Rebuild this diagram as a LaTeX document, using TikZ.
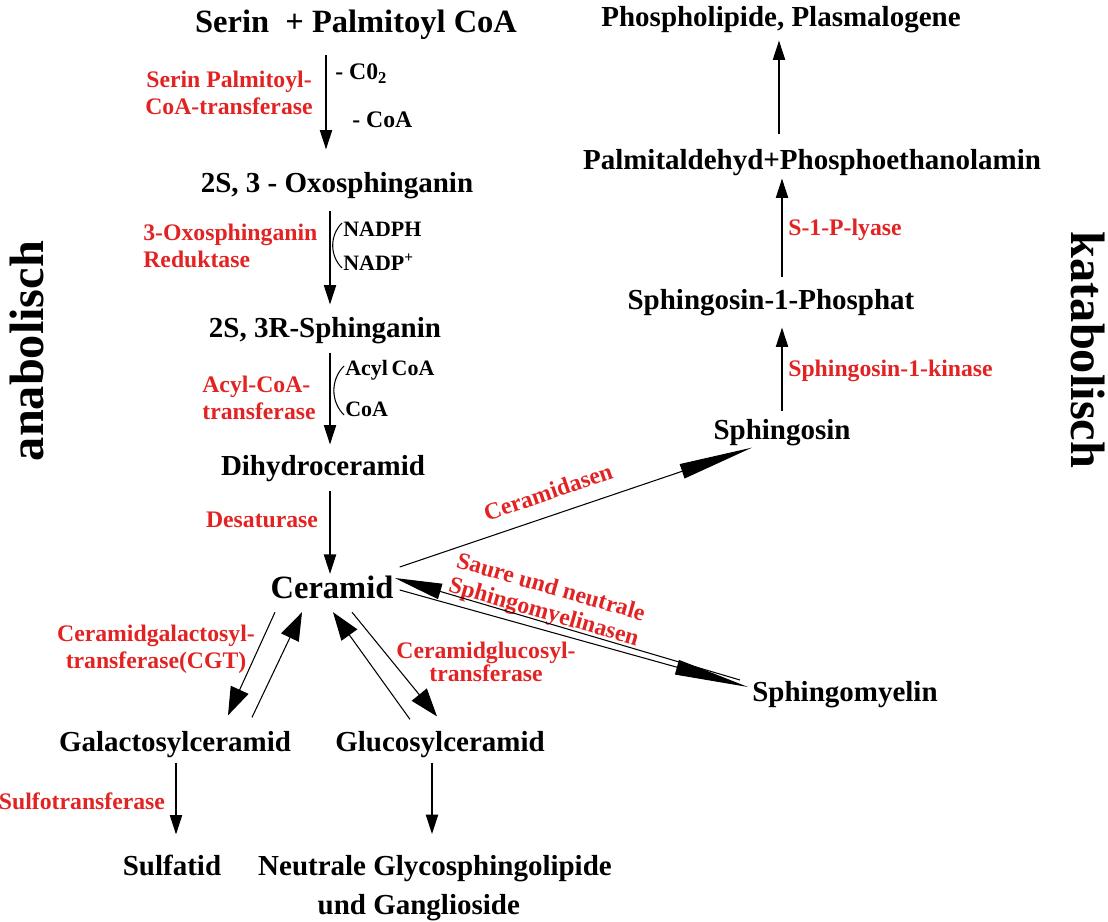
\documentclass[tikz,border=0pt]{standalone}
\usepackage{fontspec}
\setmainfont{Liberation Serif}
\usetikzlibrary{arrows.meta}
\definecolor{enzymrot}{RGB}{226,35,35}
\tikzset{
  stoff/.style={
    inner sep=0pt,
    text height=11.5pt,
    text depth=3.6pt,
    font=\fontsize{16.5}{20}\selectfont\bfseries
  },
  haupt/.style={
    inner sep=0pt,
    text height=12.9pt,
    text depth=4pt,
    font=\fontsize{18.5}{22}\selectfont\bfseries
  },
  enzym/.style={
    inner sep=0pt,
    text=enzymrot,
    font=\fontsize{13.5}{15.5}\selectfont\bfseries
  },
  klein/.style={
    inner sep=0pt,
    anchor=west,
    font=\fontsize{12.5}{15}\selectfont\bfseries
  },
  seite/.style={
    inner sep=0pt,
    font=\fontsize{27.5}{30}\selectfont\bfseries
  },
  pfeil/.style={
    -{Triangle[length=11pt,width=7pt]},
    line width=0.6pt
  },
  breit/.style={
    -{Triangle[length=16pt,width=11pt]},
    line width=0.6pt
  },
  lang/.style={
    -{Triangle[length=42pt,width=8.5pt]},
    line width=0.6pt
  }
}
\begin{document}
\begin{tikzpicture}[x=0.02cm,y=-0.02cm]
\useasboundingbox (0,0) rectangle (1108,922);
% anabole Seite
\node[haupt] (serin) at (356,25) {Serin \ + Palmitoyl CoA};
\node[stoff] (oxo) at (337,186) {2S, 3 - Oxosphinganin};
\node[stoff] (sphn) at (325,331) {2S, 3R-Sphinganin};
\node[stoff] (dihy) at (323,469) {Dihydroceramid};
\node[haupt] (cer) at (332,591) {Ceramid};
\node[stoff] (galac) at (175,745) {Galactosylceramid};
\node[stoff] (gluc) at (440,745) {Glucosylceramid};
\node[stoff] (sulf) at (172,869) {Sulfatid};
\node[inner sep=0pt, font=\fontsize{16.5}{22}\selectfont\bfseries] (neutr) at (435,887)
  {\begin{tabular}{@{}r@{\ }l@{}}Neutrale & Glycosphingolipide\\ und & Ganglioside\end{tabular}};
% katabole Seite
\node[stoff] (sm) at (845,695) {Sphingomyelin};
\node[stoff] (sph) at (782,433) {Sphingosin};
\node[stoff] (s1p) at (771,303) {Sphingosin-1-Phosphat};
\node[stoff] (palm) at (812,163) {Palmitaldehyd+Phosphoethanolamin};
\node[stoff] (phos) at (781,20) {Phospholipide, Plasmalogene};
\node[seite, rotate=90] (anab) at (27,351) {anabolisch};
\node[seite, rotate=-90] (katab) at (1088,350) {katabolisch};
% Kofaktoren
\node[klein, font=\fontsize{13.5}{15}\selectfont\bfseries] (co2) at (335,74) {- C0\textsubscript{2}};
\node[klein, font=\fontsize{13.5}{15}\selectfont\bfseries] (coa1) at (352,120) {- CoA};
\node[klein] (nadph) at (343,229) {NADPH};
\node[klein] (nadp) at (343,262) {NADP\textsuperscript{+}};
\node[klein] (acyl) at (345,370) {Acyl\,CoA};
\node[klein] (coa2) at (345,409) {CoA};
\draw[line width=0.6pt] ([shift={(-1,-6)}]nadph.west) to[bend right=45] ([shift={(-1,6)}]nadp.west);
\draw[line width=0.6pt] ([shift={(-1,-4)}]acyl.west) to[bend right=45] ([shift={(-1,6)}]coa2.west);
% Enzyme
\node[enzym, align=center] (e1) at (229,93) {Serin Palmitoyl-\\CoA-transferase};
\node[enzym, align=left, anchor=west] (e2) at (143,246) {3-Oxosphinganin\\Reduktase};
\node[enzym, align=left, anchor=west] (e3) at (202,398) {Acyl-CoA-\\transferase};
\node[enzym] (e4) at (262,520) {Desaturase};
\node[enzym, align=center] (e5) at (156,649) {Ceramidgalactosyl-\\transferase(CGT)};
\node[enzym, align=center, font=\fontsize{13.5}{9.5}\selectfont\bfseries] (e6) at (486,662) {Ceramidglucosyl-\\transferase};
\node[enzym] (e7) at (82,801) {Sulfotransferase};
\node[enzym, rotate=19] (e8) at (548,492) {Ceramidasen};
\node[enzym, rotate=-16, align=center, font=\fontsize{13.5}{14.5}\selectfont\bfseries] (e9) at (547,601) {Saure und neutrale\\Sphingomyelinasen};
\node[enzym, anchor=west] (e10) at (788,230) {S-1-P-lyase};
\node[enzym, anchor=west] (e11) at (788,371) {Sphingosin-1-kinase};
% Pfeile
\draw[pfeil] ([shift={(-30,15)}]serin.south) -- ([shift={(-11,-23)}]oxo.north);
\draw[pfeil] ([shift={(-7,11)}]oxo.south) -- ([shift={(5,-13)}]sphn.north);
\draw[pfeil] ([shift={(5,8)}]sphn.south) -- ([shift={(7,-11)}]dihy.north);
\draw[pfeil] ([shift={(7,8)}]dihy.south) -- ([shift={(-2,-2)}]cer.north);
\draw[pfeil] ([shift={(1,4)}]galac.south) -- ([shift={(4,-21)}]sulf.north);
\draw[pfeil] ([shift={(-8,4)}]gluc.south) -- ([shift={(-3,-14)}]neutr.north);
\draw[pfeil] ([shift={(0,-8)}]sph.north) -- ([shift={(11,11)}]s1p.south);
\draw[pfeil] ([shift={(11,-12)}]s1p.north) -- ([shift={(-30,2)}]palm.south);
\draw[pfeil] ([shift={(-33,-15)}]palm.north) -- ([shift={(-2,7)}]phos.south);
\draw[breit] ([shift={(-57,6)}]cer.south) -- ([shift={(53,-16)}]galac.north);
\draw[breit] ([shift={(77,-14)}]galac.north) -- ([shift={(-30,6)}]cer.south);
\draw[breit] ([shift={(-30,-12)}]gluc.north) -- ([shift={(1,6)}]cer.south);
\draw[breit] ([shift={(20,6)}]cer.south) -- ([shift={(-3,-15)}]gluc.north);
\draw[lang] ([shift={(6,-24)}]cer.east) -- ([shift={(-30,1)}]sph.south);
\draw[lang] ([shift={(6,-1)}]cer.east) -- ([shift={(-4,-8)}]sm.west);
\draw[-{Triangle[length=27pt,width=9pt]}, line width=0.6pt] ([shift={(-12,-15)}]sm.west) -- ([shift={(1,-13)}]cer.east);
\end{tikzpicture}
\end{document}
